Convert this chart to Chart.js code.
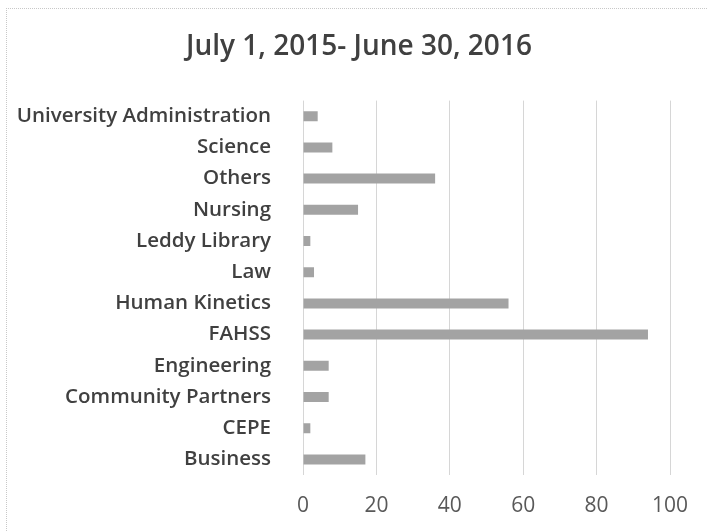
<!DOCTYPE html>
<html>
<head>
<meta charset="utf-8">
<script src="https://cdn.jsdelivr.net/npm/chart.js@4"></script>
<style>
    html, body { margin: 0; padding: 0; background: #fff; overflow: hidden; }
    #frame {
        position: absolute; left: 6px; top: 8px; width: 800px; height: 600px;
        border-left: 1px dotted #c8c8c8; border-top: 1px dotted #c8c8c8;
    }
    #usageChart { position: absolute; left: 0; top: 0; }
</style>
</head>
<body>
<div id="frame"></div>
<canvas id="usageChart" width="708" height="531"></canvas>
<script>
const categories = [
    'University Administration', 'Science', 'Others', 'Nursing', 'Leddy Library', 'Law',
    'Human Kinetics', 'FAHSS', 'Engineering', 'Community Partners', 'CEPE', 'Business'
];
const counts = [4, 8, 36, 15, 2, 3, 56, 94, 7, 7, 2, 17];
const xTicks = [0, 20, 40, 60, 80, 100];

const usageChart = document.getElementById('usageChart');

new Chart(usageChart, {
    type: 'bar',
    data: {
        labels: categories,
        datasets: [{
            label: 'Count',
            data: counts,
            backgroundColor: '#a3a3a3',
            borderWidth: 0,
            categoryPercentage: 1,
            barPercentage: 0.32
        }]
    },
    options: {
        indexAxis: 'y',
        responsive: false,
        animation: false,
        layout: { padding: { left: 10, right: 0, top: 0, bottom: 0 } },
        plugins: {
            legend: { display: false },
            tooltip: { enabled: false },
            title: {
                display: true,
                text: 'July 1, 2015- June 30, 2016',
                color: '#404040',
                font: { family: 'Open Sans', size: 28, weight: '600' },
                padding: { top: 30, bottom: 37 }
            }
        },
        scales: {
            x: {
                min: xTicks[0],
                max: xTicks[xTicks.length - 1],
                afterBuildTicks: function (scale) {
                    scale.ticks = xTicks.map(v => ({ value: v }));
                },
                afterFit: function (scale) {
                    scale.height = 56;
                },
                grid: { color: '#d6d6d6', drawTicks: false },
                border: { display: false },
                ticks: {
                    color: '#595959',
                    padding: 18,
                    font: { family: 'Open Sans', size: 21 }
                }
            },
            y: {
                grid: { display: false },
                border: { display: false },
                afterFit: function (scale) {
                    scale.width = 293;
                },
                ticks: {
                    color: '#404040',
                    padding: 24,
                    font: { family: 'Open Sans', size: 20.5, weight: '600' }
                }
            },
            // empty right-hand axis, only keeps room at the right like the original
            y2: {
                type: 'linear',
                position: 'right',
                grid: { display: false },
                border: { display: false },
                ticks: { display: false },
                afterFit: function (scale) {
                    scale.width = 38;
                }
            }
        }
    }
});
</script>
</body>
</html>
